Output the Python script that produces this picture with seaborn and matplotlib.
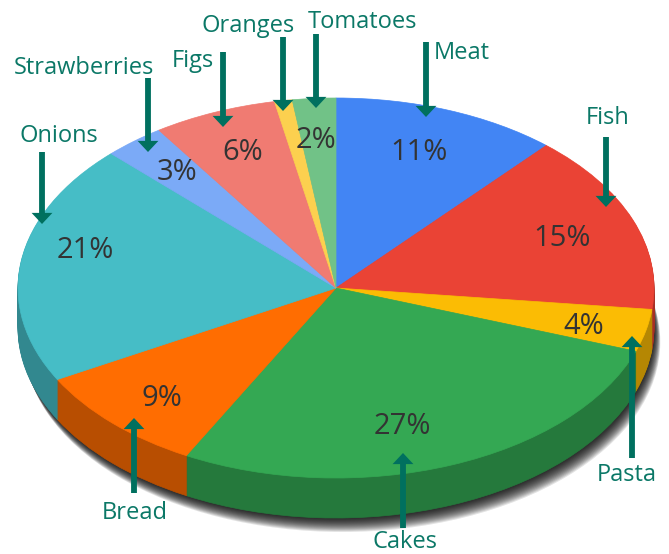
"""
3D looking food share pie chart
"""

import matplotlib
matplotlib.use('Agg')
import matplotlib.pyplot as plt
import seaborn as sns
import numpy as np

# Slice shares, the printed labels are rounded
categories = ['Meat', 'Fish', 'Pasta', 'Cakes', 'Bread', 'Onions',
              'Strawberries', 'Figs', 'Oranges', 'Tomatoes']
shares = [11.5, 15.3, 3.6, 27.4, 9.2, 20.5, 3.1, 6.3, 0.9, 2.2]
pct_labels = ['11%', '15%', '4%', '27%', '9%', '21%', '3%', '6%', '', '2%']
colors = ['#4285f4', '#ea4335', '#fbbc04', '#34a853', '#ff6d01',
          '#46bdc6', '#7baaf7', '#f07b72', '#fcd04f', '#71c287']

# Annotation layout in pixels of the 669x554 picture
pct_pos = [(419, 152), (562, 239), (584, 327), (402, 426), (162, 398),
           (85, 251), (177, 173), (243, 152), (0, 0), (316, 140)]
label_pos = [(462, 53), (608, 118), (627, 475), (405, 542), (135, 513),
             (59, 136), (84, 68), (193, 61), (248, 26), (362, 22)]
arrow_x = [426, 606, 632, 403, 134, 42, 148, 223, 283, 316]
arrow_tail = [42, 137, 458, 528, 493, 152, 78, 52, 37, 34]
arrow_tip = [117, 207, 336, 453, 418, 224, 152, 127, 111, 108]

WIDTH, HEIGHT = 669, 554
CENTER_X, CENTER_Y = 336, 288
RADIUS = 318
SQUASH = 190 / 318
DEPTH = 40
TEAL = '#00705f'

sns.set_theme(style='white')
plt.rcParams['font.family'] = ['Open Sans', 'DejaVu Sans']

fig = plt.figure(figsize=(WIDTH / 100, HEIGHT / 100), dpi=100, facecolor='white')
ax = fig.add_axes([0, 0, 1, 1])


def pie_center(offset, dx=0):
    # y axis of the pie runs upwards and is stretched by the squash factor
    return (CENTER_X + dx, (HEIGHT - CENTER_Y - offset) / SQUASH)


def draw_disc(slice_colors, offset):
    wedges = ax.pie(shares, colors=slice_colors, radius=RADIUS, center=pie_center(offset),
                    startangle=90, counterclock=False)[0]
    # Edge in the slice colour hides the seams between wedges
    for wedge in wedges:
        wedge.set_edgecolor(wedge.get_facecolor())
        wedge.set_linewidth(0.5)


# Soft shadow under the disc, leaning to the lower right
for shift in range(14, 0, -1):
    ax.pie([1], colors=['black'], radius=RADIUS, center=pie_center(DEPTH + shift, dx=shift * 0.45),
           wedgeprops=dict(alpha=0.11, linewidth=0))

# Side wall, stacked darker copies
dark = [tuple(np.array(matplotlib.colors.to_rgb(c)) * 0.72) for c in colors]
for offset in range(DEPTH, 0, -1):
    draw_disc(dark, offset)

# Top face
draw_disc(colors, 0)

ax.set_aspect('auto')
ax.set_xlim(0, WIDTH)
ax.set_ylim(0, HEIGHT / SQUASH)
ax.axis('off')

# Overlay in picture pixels for the labels and arrows
overlay = fig.add_axes([0, 0, 1, 1])
overlay.set_xlim(0, WIDTH)
overlay.set_ylim(HEIGHT, 0)
overlay.axis('off')
overlay.patch.set_alpha(0)

for text, (x, y) in zip(pct_labels, pct_pos):
    if text:
        overlay.text(x, y, text, color='#333333', fontsize=21,
                     ha='center', va='center')

for name, (x, y) in zip(categories, label_pos):
    overlay.text(x, y, name, color='#0b7867', fontsize=17,
                 ha='center', va='center')

for x, tail, tip in zip(arrow_x, arrow_tail, arrow_tip):
    overlay.annotate('', xy=(x, tip), xytext=(x, tail),
                     arrowprops=dict(facecolor=TEAL, edgecolor='none', width=4.2,
                                     headwidth=15, headlength=8, shrink=0))

fig.savefig('out.png', dpi=100)
plt.close(fig)
